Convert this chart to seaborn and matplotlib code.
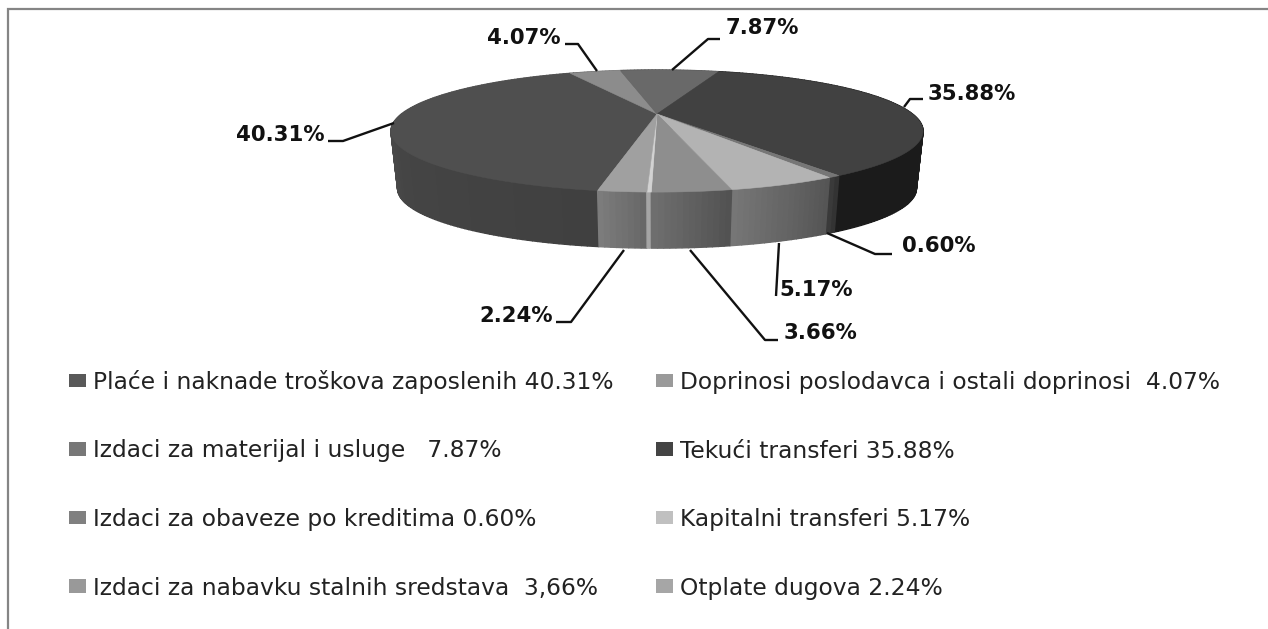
import numpy as np
import matplotlib
matplotlib.use("Agg")
import matplotlib.pyplot as plt
import seaborn as sns
from matplotlib.patches import Patch

# data
legend_labels = [
    "Plaće i naknade troškova zaposlenih 40.31%",
    "Doprinosi poslodavca i ostali doprinosi  4.07%",
    "Izdaci za materijal i usluge   7.87%",
    "Tekući transferi 35.88%",
    "Izdaci za obaveze po kreditima 0.60%",
    "Kapitalni transferi 5.17%",
    "Izdaci za nabavku stalnih sredstava  3,66%",
    "Otplate dugova 2.24%",
]
# last-but-one slice is the thin unlabelled sliver in the picture
shares = [40.31, 4.07, 7.87, 35.88, 0.60, 5.17, 3.66, 0.20, 2.24]
data_labels = ["40.31%", "4.07%", "7.87%", "35.88%", "0.60%", "5.17%", "3.66%", None, "2.24%"]

top_colors = ["#4f4f4f", "#8c8c8c", "#696969", "#414141", "#767676", "#b3b3b3", "#8e8e8e", "#d2d2d2", "#a0a0a0"]
# wall shading runs in slice order, clockwise from the front
wall_colors = [
    ["#404040", "#454545", "#5a5a5a", "#5c5c5c"], ["#555555", "#777777"], ["#444444", "#555555"],
    ["#1d1d1d", "#1b1b1b"], ["#333333", "#3a3a3a"], ["#555555", "#767676"],
    ["#525252", "#6e6e6e"], ["#a5a5a5", "#a5a5a5"], ["#686868", "#7c7c7c"],
]
legend_colors = ["#595959", "#9a9a9a", "#777777", "#444444", "#808080", "#c0c0c0", "#999999", "#a6a6a6"]

# leader lines: label text anchor and polyline, in picture pixels
leaders = {
    "40.31%": ((280, 135), [(328, 141), (343, 141), (394, 123)]),
    "4.07%": ((524, 38), [(565, 44), (578, 44), (597, 71)]),
    "7.87%": ((762, 28), [(720, 39), (708, 39), (672, 70)]),
    "35.88%": ((972, 94), [(923, 99), (910, 99), (904, 107)]),
    "0.60%": ((939, 246), [(892, 254), (875, 254), (827, 233)]),
    "5.17%": ((816, 290), [(776, 296), (779, 243)]),
    "3.66%": ((820, 333), [(778, 340), (765, 340), (690, 250)]),
    "2.24%": ((516, 316), [(556, 322), (571, 322), (624, 250)]),
}

sns.set_theme(style="white")
plt.rcParams["font.family"] = ["DejaVu Sans"]

fig, ax = plt.subplots(figsize=(12.68, 6.29), dpi=100)
ax.set_position([0, 0, 1, 1])
ax.set_xlim(0, 1268)
ax.set_ylim(629, 0)
ax.axis("off")

# frame of the pasted chart
ax.plot([8, 8, 1268], [629, 9, 9], color="#858585", lw=1.6, solid_joinstyle="miter")


def rim(theta, bottom=False):
    # perspective view of the pie rim, theta clockwise from the front
    u, v = -np.sin(theta), np.cos(theta)
    w = 1 - 0.279 * v
    x = 255.5 * u / w
    y = 56.3 * v / w
    if bottom:
        return 657 + 0.975 * x, 114 + 58 + 0.975 * y
    return 657 + x, 114 + y


fractions = np.array(shares) / sum(shares)
edges = np.radians(9.7) + 2 * np.pi * np.concatenate([[0], np.cumsum(fractions)])

# side walls back to front, top face covers the hidden ones
strips = []
for start, end, stops in zip(edges[:-1], edges[1:], wall_colors):
    n = max(int(np.degrees(end - start)), 2)
    shades = sns.blend_palette(stops, n)
    cuts = np.linspace(start, end, n + 1)
    for a, b, shade in zip(cuts[:-1], cuts[1:], shades):
        t = np.linspace(a, b, 4)
        xt, yt = rim(t)
        xb, yb = rim(t, bottom=True)
        strips.append((yt.mean(), np.r_[xt, xb[::-1]], np.r_[yt, yb[::-1]], shade))
for _, xs, ys, shade in sorted(strips, key=lambda s: s[0]):
    ax.fill(xs, ys, color=shade, lw=1.0, zorder=2)

for start, end, color in zip(edges[:-1], edges[1:], top_colors):
    t = np.linspace(start, end, max(int(np.degrees(end - start)) * 2, 3))
    xt, yt = rim(t)
    ax.fill(np.r_[657, xt], np.r_[114, yt], color=color, lw=0.4, zorder=3)

# leader lines and data labels
for label in data_labels:
    if label is None:
        continue
    pos, line = leaders[label]
    ax.plot(*zip(*line), color="#111111", lw=1.7, zorder=4, solid_capstyle="butt")
    ax.text(pos[0], pos[1], label, ha="center", va="center", fontsize=15.3,
            fontweight="bold", color="#111111", zorder=5)

# legend is filled column by column
order = [0, 2, 4, 6, 1, 3, 5, 7]
handles = [Patch(facecolor=legend_colors[i], edgecolor="none", label=legend_labels[i]) for i in order]
ax.legend(
    handles=handles, ncols=2, loc="upper left", bbox_to_anchor=(69 / 1268, 1 - 370 / 629),
    frameon=False, fontsize=16.8, labelcolor="#222222", borderpad=0, borderaxespad=0,
    handlelength=0.73, handleheight=0.51, handletextpad=0.30, labelspacing=1.95, columnspacing=1.8,
)

fig.savefig("out.png", dpi=100)
